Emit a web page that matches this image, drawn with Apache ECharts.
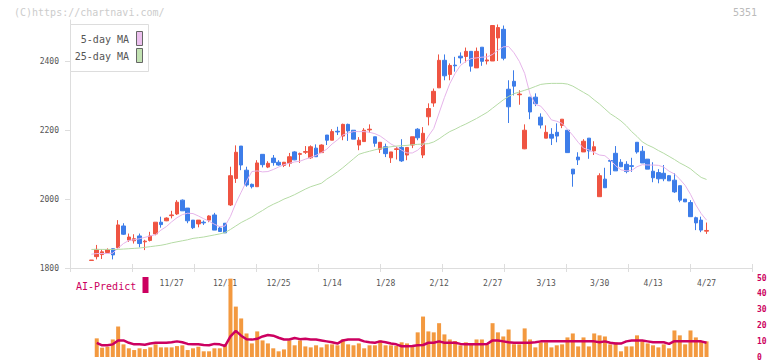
<!DOCTYPE html>
<html><head><meta charset="utf-8">
<script src="https://cdn.jsdelivr.net/npm/echarts@6/dist/echarts.min.js"></script>
<style>html,body{margin:0;padding:0;background:#fff}#c{width:772px;height:361px}</style>
</head><body><div id="c"></div>
<script>
const dates = ['11/5','11/6','11/7','11/10','11/11','11/12','11/13','11/14','11/17','11/18','11/19','11/20','11/21','11/25','11/26','11/27','11/28','12/1','12/2','12/3','12/4','12/5','12/8','12/9','12/10','12/11','12/12','12/15','12/16','12/17','12/18','12/19','12/22','12/23','12/24','12/25','12/26','12/29','12/30','1/5','1/6','1/7','1/8','1/9','1/13','1/14','1/15','1/16','1/19','1/20','1/21','1/22','1/23','1/26','1/27','1/28','1/29','1/30','2/2','2/3','2/4','2/5','2/6','2/9','2/10','2/12','2/13','2/16','2/17','2/18','2/19','2/20','2/24','2/25','2/26','2/27','3/2','3/3','3/4','3/5','3/6','3/9','3/10','3/11','3/12','3/13','3/16','3/17','3/18','3/19','3/23','3/24','3/25','3/26','3/27','3/30','3/31','4/1','4/2','4/3','4/6','4/7','4/8','4/9','4/10','4/13','4/14','4/15','4/16','4/17','4/20','4/21','4/22','4/23','4/24','4/27'];
const tickLabels = ['11/27','12/11','12/25','1/14','1/28','2/12','2/27','3/13','3/30','4/13','4/27'];
const priceTicks = [1800, 2000, 2200, 2400];

const opens  = [1822,1833,1839,1845,1856,1859,1922,1881,1879,1893,1876,1880,1899,1933,1937,1952,1957,1997,1974,1939,1928,1933,1939,1954,1916,1930,1983,2060,2154,2084,2043,2036,2130,2093,2119,2107,2098,2104,2137,2130,2136,2120,2148,2135,2186,2171,2197,2183,2217,2200,2157,2167,2201,2181,2145,2152,2120,2144,2150,2128,2157,2203,2128,2239,2279,2323,2403,2362,2389,2415,2414,2429,2381,2441,2401,2401,2468,2493,2319,2342,2303,2146,2296,2296,2238,2177,2188,2194,2214,2200,2087,2122,2137,2177,2140,2007,2058,2112,2133,2107,2101,2097,2165,2139,2116,2081,2077,2075,2068,2055,2039,2000,1990,1946,1939,1907];
const closes = [1823,1854,1847,1853,1838,1925,1898,1890,1885,1871,1878,1893,1933,1926,1945,1954,1991,1966,1937,1917,1939,1931,1951,1910,1906,1902,2068,2136,2099,2041,2036,2105,2100,2104,2106,2099,2107,2123,2114,2132,2138,2152,2123,2157,2171,2196,2195,2217,2198,2174,2171,2200,2203,2162,2165,2132,2137,2146,2111,2150,2181,2178,2191,2263,2313,2403,2358,2388,2387,2410,2429,2386,2429,2400,2404,2504,2498,2409,2268,2328,2305,2200,2253,2277,2215,2194,2177,2183,2232,2135,2073,2114,2168,2140,2152,2068,2033,2110,2082,2094,2080,2095,2137,2105,2087,2062,2059,2059,2053,2021,1997,1992,1949,1931,1910,1909];
const lows   = [1822,1825,1826,1843,1825,1857,1896,1876,1871,1860,1852,1877,1895,1917,1936,1944,1954,1966,1930,1913,1918,1925,1933,1910,1905,1902,1980,2047,2084,2036,2031,2036,2092,2090,2097,2097,2093,2094,2113,2105,2131,2117,2123,2135,2157,2171,2186,2171,2169,2174,2142,2167,2193,2152,2134,2122,2105,2115,2108,2113,2148,2171,2119,2214,2268,2323,2345,2345,2370,2394,2397,2370,2381,2387,2391,2401,2401,2403,2221,2301,2274,2145,2232,2270,2205,2177,2157,2165,2206,2135,2036,2099,2137,2117,2128,2007,2033,2070,2082,2093,2075,2079,2132,2105,2087,2049,2046,2052,2053,2018,1991,1992,1949,1910,1904,1899];
const highs  = [1823,1867,1854,1857,1857,1939,1930,1900,1898,1900,1882,1905,1933,1949,1947,1966,1997,1999,1974,1939,1939,1938,1953,1960,1920,1930,2094,2156,2154,2094,2045,2113,2130,2110,2128,2113,2108,2134,2139,2135,2154,2156,2159,2159,2186,2203,2210,2219,2219,2200,2180,2206,2217,2181,2165,2161,2137,2152,2174,2150,2181,2206,2209,2278,2321,2420,2420,2394,2413,2426,2440,2429,2440,2441,2423,2504,2507,2504,2345,2374,2316,2217,2296,2307,2249,2214,2206,2220,2232,2200,2087,2136,2174,2177,2168,2075,2091,2112,2154,2116,2110,2120,2165,2154,2116,2107,2087,2099,2070,2075,2039,2000,1997,1949,1949,1932];

const ma5  = [1840,1842,1842,1842,1843,1858,1871,1880,1882,1885,1889,1893,1897,1910,1920,1934,1946,1955,1959,1958,1951,1943,1936,1927,1920,1922,1950,1988,2020,2052,2080,2082,2079,2080,2086,2093,2100,2104,2108,2110,2116,2121,2127,2135,2145,2160,2172,2186,2192,2196,2196,2196,2194,2190,2183,2172,2160,2152,2142,2134,2134,2142,2157,2183,2205,2250,2295,2335,2365,2388,2400,2408,2410,2412,2413,2420,2432,2442,2443,2425,2400,2365,2305,2275,2270,2252,2230,2226,2220,2203,2185,2165,2148,2143,2135,2128,2126,2113,2097,2085,2082,2083,2094,2100,2099,2099,2098,2093,2081,2073,2058,2040,2014,1983,1958,1939];
const ma25 = [1854,1854,1854,1854,1854,1854,1855,1856,1857,1858,1860,1862,1864,1866,1869,1873,1876,1879,1882,1886,1888,1890,1893,1896,1899,1903,1912,1922,1932,1940,1948,1958,1967,1977,1985,1992,2000,2006,2013,2021,2029,2036,2041,2046,2058,2068,2079,2091,2104,2117,2130,2135,2139,2143,2147,2150,2152,2154,2155,2156,2158,2159,2160,2161,2166,2175,2186,2196,2203,2211,2218,2226,2234,2243,2252,2264,2276,2288,2298,2306,2311,2316,2321,2327,2333,2335,2336,2336,2336,2334,2328,2319,2310,2301,2288,2276,2262,2248,2238,2227,2213,2196,2182,2166,2157,2150,2141,2133,2124,2115,2105,2097,2088,2075,2063,2057];

const volumes = [null,11.8,5.9,6.5,11.1,19.3,8.0,5.5,4.4,5.5,5.0,6.1,8.0,6.1,6.1,6.1,6.9,7.4,4.4,5.5,6.5,3.6,3.6,5.5,5.5,8.0,49.6,31.9,24.4,14.9,8.6,16.2,10.5,8.6,5.5,3.6,4.8,10.5,7.4,10.5,6.7,6.1,7.4,6.1,8.0,8.0,7.4,11.1,8.0,7.4,8.6,5.5,7.4,7.4,10.5,7.4,7.4,7.0,9.3,8.6,7.4,15.6,25.6,16.2,15.6,21.4,14.3,11.1,10.1,7.4,9.3,8.6,11.1,11.1,8.0,21.4,15.6,13.0,17.4,8.0,8.0,18.1,11.1,6.1,9.3,9.3,6.1,7.4,8.0,12.4,14.9,6.7,12.4,6.7,14.9,13.7,13.0,8.0,9.3,3.6,6.7,6.7,13.7,9.9,8.6,7.4,6.1,8.0,5.5,16.8,13.7,8.0,16.8,12.4,9.9,9.9];
const aiPredict = [null,9.0,7.4,7.4,8.0,10.5,10.5,9.0,8.0,8.0,7.8,8.5,9.0,9.0,9.0,9.3,9.9,9.3,8.3,8.0,8.0,7.6,7.4,8.3,8.0,7.0,13.0,16.5,13.5,11.2,11.0,11.5,13.0,13.9,13.5,12.2,11.1,11.1,12.0,11.3,11.5,11.1,11.1,10.5,9.9,9.3,8.5,10.5,11.1,11.1,11.1,9.9,9.3,9.0,9.9,9.3,8.5,8.0,6.8,6.8,7.0,7.4,7.6,9.0,9.0,9.9,9.0,9.0,9.0,8.3,8.0,8.0,8.0,8.0,8.3,10.5,10.5,9.9,9.3,9.0,9.0,9.0,9.0,9.3,9.9,9.9,9.9,9.9,9.9,9.9,9.9,9.9,9.9,9.9,9.9,9.3,9.9,9.0,8.5,8.5,9.9,10.5,10.5,10.5,9.9,9.3,9.3,9.3,8.3,10.0,10.0,10.0,10.0,10.0,9.9,9.0];

const RED = '#ef5442', BLUE = '#3d7de9', PINK = '#e6b4ea', GREEN = '#b5dba5';
const ORANGE = '#f3993f', CRIMSON = '#cc0060';
const FONT = '"DejaVu Sans Mono","Liberation Mono",monospace';

const labelIdx = tickLabels.map(l => dates.indexOf(l));
const candleData = dates.map((d, i) => [i, opens[i], closes[i], lows[i], highs[i]]);
const pair = arr => arr.map((v, i) => v == null ? [i, null] : [i, v]);

const chart = echarts.init(document.getElementById('c'), null, {renderer: 'svg'});
chart.setOption({
  animation: false,
  backgroundColor: '#fff',
  grid: [
    {left: 70, right: 20, top: 20, height: 248},
    {left: 70, right: 20, top: 278, height: 80}
  ],
  xAxis: [
    {gridIndex: 0, type: 'value', min: -4, max: 123.5,
     axisLine: {show: true, onZero: false, lineStyle: {color: '#ddd', width: 1}},
     axisTick: {show: false}, splitLine: {show: false},
     axisLabel: {customValues: labelIdx, formatter: v => dates[Math.round(v)] || '',
                 fontSize: 8, color: '#555', fontFamily: FONT, margin: 11}},
    {gridIndex: 1, type: 'value', min: -4, max: 123.5, show: false},
    {gridIndex: 0, type: 'value', min: 0, max: 11, interval: 1, position: 'bottom',
     axisLine: {show: false, onZero: false}, axisLabel: {show: false}, splitLine: {show: false},
     axisTick: {show: true, length: 4, inside: true, lineStyle: {color: '#ddd'}}},
    {gridIndex: 0, type: 'value', min: 0, max: 11, interval: 1, position: 'bottom',
     axisLine: {show: false, onZero: false}, axisLabel: {show: false}, splitLine: {show: false},
     axisTick: {show: true, length: 4, lineStyle: {color: '#ddd'}}}
  ],
  yAxis: [
    {gridIndex: 0, type: 'value', min: 1800, max: 2520,
     axisLine: {show: true, onZero: false, lineStyle: {color: '#ddd'}},
     axisTick: {show: true, length: 5, customValues: priceTicks, lineStyle: {color: '#ddd'}},
     splitLine: {show: false},
     axisLabel: {customValues: priceTicks, formatter: v => String(v), fontSize: 8, color: '#555', fontFamily: FONT, margin: 11}},
    {gridIndex: 1, type: 'value', position: 'right', min: 0, max: 50, interval: 10,
     axisLine: {show: false, onZero: false}, axisTick: {show: false}, splitLine: {show: false},
     axisLabel: {fontSize: 8, fontWeight: 'bold', color: CRIMSON, fontFamily: FONT, margin: 5}}
  ],
  series: [
    {type: 'candlestick', xAxisIndex: 0, yAxisIndex: 0, data: candleData, barWidth: 4,
     itemStyle: {color: RED, color0: BLUE, borderColor: RED, borderColor0: BLUE, borderWidth: 1}},
    {type: 'line', xAxisIndex: 0, yAxisIndex: 0, data: pair(ma5), symbol: 'none',
     lineStyle: {color: PINK, width: 1}},
    {type: 'line', xAxisIndex: 0, yAxisIndex: 0, data: pair(ma25), symbol: 'none',
     lineStyle: {color: GREEN, width: 1}},
    {type: 'bar', xAxisIndex: 1, yAxisIndex: 1, data: pair(volumes), barWidth: 4,
     itemStyle: {color: ORANGE}},
    {type: 'line', xAxisIndex: 1, yAxisIndex: 1, data: pair(aiPredict), symbol: 'none',
     lineStyle: {color: CRIMSON, width: 2.5}, z: 5}
  ],
  graphic: [
    {type: 'text', left: 14, top: 7, style: {text: '(C)https://chartnavi.com/', font: '10px ' + FONT, fill: '#ccc'}},
    {type: 'text', right: 15, top: 7, style: {text: '5351', font: '10px ' + FONT, fill: '#bbb'}},
    {type: 'rect', shape: {x: 70.5, y: 24.5, width: 78, height: 47}, style: {fill: '#fff', stroke: '#ddd', lineWidth: 1}, z: 10},
    {type: 'text', x: 129, y: 39, style: {text: '5-day MA', font: '10px ' + FONT, fill: '#555', align: 'right', verticalAlign: 'middle'}, z: 11},
    {type: 'text', x: 129, y: 56, style: {text: '25-day MA', font: '10px ' + FONT, fill: '#555', align: 'right', verticalAlign: 'middle'}, z: 11},
    {type: 'rect', shape: {x: 136.5, y: 31.5, width: 6, height: 14}, style: {fill: '#ecc0ee', stroke: '#666', lineWidth: 1}, z: 11},
    {type: 'rect', shape: {x: 136.5, y: 48.5, width: 6, height: 14}, style: {fill: '#c2e2b2', stroke: '#666', lineWidth: 1}, z: 11},
    {type: 'text', x: 76, y: 286, style: {text: 'AI-Predict', font: '10px ' + FONT, fill: CRIMSON, verticalAlign: 'middle'}, z: 11},
    {type: 'rect', shape: {x: 142.5, y: 277, width: 6, height: 16}, style: {fill: CRIMSON}, z: 11}
  ]
});
</script></body></html>
